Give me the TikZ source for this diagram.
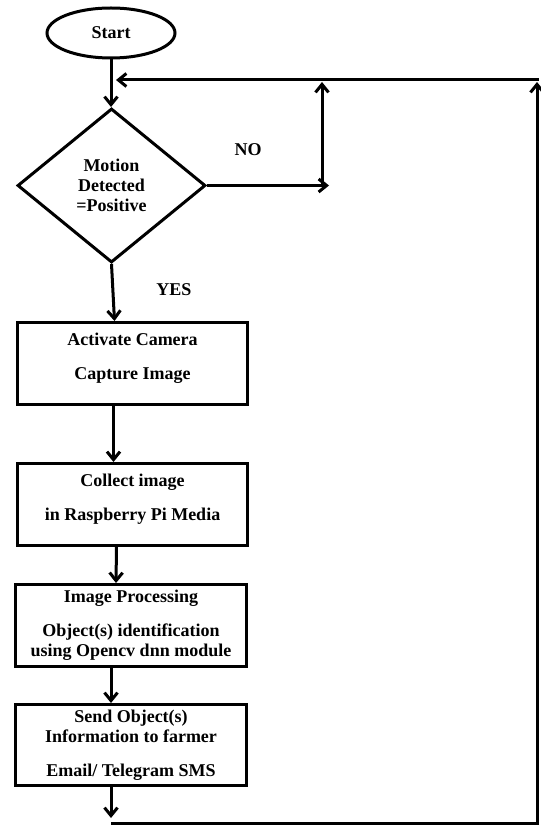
\documentclass[tikz,border=0pt]{standalone}
\usepackage{fontspec}
\setmainfont{Liberation Serif}
\usetikzlibrary{arrows.meta,shapes.geometric}
\tikzset{
	flowline/.style={line width=3pt},
	flow/.style={flowline, -{Straight Barb[length=8pt,width=13pt,line width=3pt]}},
	stepbox/.style={draw, rectangle, line width=3pt, align=center, inner sep=0pt},
	lifted/.style={text depth=15pt}
}

\begin{document}
\begin{tikzpicture}[x=1pt, y=-1pt, font=\fontsize{18}{20}\selectfont\bfseries]
	%%%%% START %%%%%
	\useasboundingbox (0,0) rectangle (540,826);

	\node[draw, ellipse, line width=3pt, minimum width=128pt, minimum height=50pt, inner sep=0pt] (start) at (111,33) {Start};
	\node[draw, diamond, line width=3pt, minimum width=188pt, minimum height=154pt, inner sep=0pt, align=center] (motion) at (111.5,185.5) {Motion\\Detected\\=Positive};

	\node[stepbox, lifted, minimum width=230pt, minimum height=82pt] (camera) at (132.5,363.5) {Activate Camera\\[14pt]Capture Image};
	\node[stepbox, lifted, minimum width=230pt, minimum height=82pt] (collect) at (132.5,504.5) {Collect image\\[14pt]in Raspberry Pi Media};
	\node[stepbox, minimum width=231pt, minimum height=82pt] (process) at (131,625.5) {Image Processing\\[14pt]Object(s) identification\\using Opencv dnn module};
	\node[stepbox, minimum width=231pt, minimum height=81pt] (send) at (131,745) {Send Object(s)\\Information to farmer\\[14pt]Email/ Telegram SMS};

	\node (no) at (248,150) {NO};
	\node (yes) at (174,290) {YES};

	% loop corners
	\coordinate (notip) at (329,185.5);
	\coordinate (nofoot) at (322,185.5);
	\coordinate (notop) at (322,82);
	\coordinate (loopTL) at (116,80);
	\coordinate (loopTR) at (538.5,80);
	\coordinate (loopBL) at (111,823);
	\coordinate (loopBR) at (537,823);
	\coordinate (loopRtop) at (537,82);

	\draw[flow] (start.south) -- (start.south |- motion.north);
	\draw[flow] (motion.east) -- (notip);
	\draw[flow] (nofoot) -- (notop);
	\draw[flow] (motion.south) -- ([xshift=-18pt]camera.north);
	\draw[flow] ([xshift=-19pt]camera.south) -- ([xshift=-19pt]collect.north);
	\draw[flow] ([xshift=-16pt]collect.south) -- ([xshift=-15pt]process.north);
	\draw[flow] ([xshift=-20pt]process.south) -- ([xshift=-20pt]send.north);
	\draw[flow] ([xshift=-20pt]send.south) -- ([yshift=5pt]loopBL);

	\draw[flow] (loopBL) -- (loopBR) -- (loopRtop);
	\draw[flow] (loopTR) -- (loopTL);
	%%%%% END %%%%%
\end{tikzpicture}
\end{document}
